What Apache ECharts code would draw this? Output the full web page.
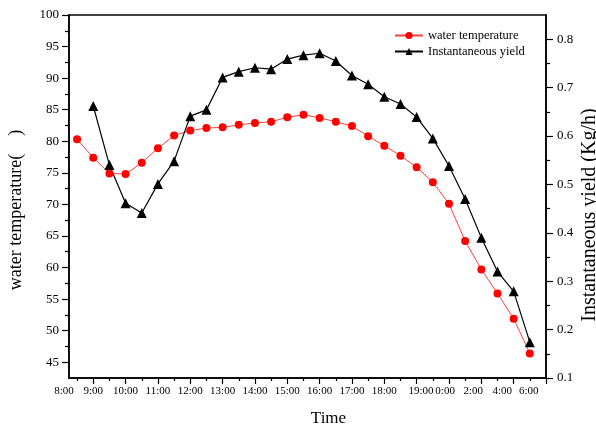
<!DOCTYPE html>
<html>
<head>
<meta charset="utf-8">
<script src="https://cdn.jsdelivr.net/npm/echarts@6/dist/echarts.min.js"></script>
<style>
html,body{margin:0;padding:0;background:#fff;}
#c{width:596px;height:430px;}
</style>
</head>
<body>
<div id="c"></div>
<script>
// half-hour slot index (0 = 8:00, 2 = 9:00, ...)
const tempSlots = [1,2,3,4,5,6,7,8,9,10,11,12,13,14,15,16,17,18,19,20,21,22,23,24,25,26,27,28,29];
const tempValues = [80.3,77.4,74.9,74.8,76.6,78.9,80.9,81.7,82.1,82.2,82.6,82.9,83.1,83.8,84.2,83.7,83.1,82.4,80.8,79.3,77.7,75.9,73.5,70.1,64.2,59.7,55.9,51.9,46.4];
const yieldSlots = [2,3,4,5,6,7,8,9,10,11,12,13,14,15,16,17,18,19,20,21,22,23,24,25,26,27,28,29];
const yieldValues = [0.662,0.540,0.461,0.441,0.501,0.548,0.641,0.654,0.721,0.733,0.741,0.738,0.759,0.767,0.771,0.755,0.725,0.707,0.681,0.666,0.639,0.595,0.538,0.470,0.390,0.320,0.279,0.174];
// x tick labels and the axis values where they sit
const xLabelText = ['8:00','9:00','10:00','11:00','12:00','13:00','14:00','15:00','16:00','17:00','18:00','19:00','0:00','2:00','4:00','6:00'];
const xLabelAt   = [0.5,2,4,6,8,10,12,14,16,18,20,22.27,23.76,25.5,27.29,28.93];
const xMajorTicks = [2,4,6,8,10,12,14,16,18,20,22,24,26,28,30];
const xMinorTicks = [1,3,5,7,9,11,13,15,17,19,21,23,25,27,29];
const leftTicks = [45,50,55,60,65,70,75,80,85,90,95,100];
const leftMinor = [47.5,52.5,57.5,62.5,67.5,72.5,77.5,82.5,87.5,92.5,97.5];
const rightTicks = [0.1,0.2,0.3,0.4,0.5,0.6,0.7,0.8];
const rightMinor = [0.15,0.25,0.35,0.45,0.55,0.65,0.75];

const FONT = '"Liberation Serif","Times New Roman",serif';
const chart = echarts.init(document.getElementById('c'), null, {renderer:'canvas'});

function xFmt(v){
  let best = 0, bd = 1e9;
  xLabelAt.forEach((p,i)=>{ const d=Math.abs(p-v); if(d<bd){bd=d;best=i;} });
  return best === 0 ? '{s|' + xLabelText[0] + '}' : xLabelText[best];
}

const axisLineStyle = {color:'#000', width:1.5};
chart.setOption({
  animation:false,
  backgroundColor:'#fff',
  grid:{left:69, right:50, top:15, bottom:52, show:true, borderColor:'#000', borderWidth:1.5,
        containLabel:false, outerBoundsMode:'none'},
  legend:{
    orient:'vertical', left:394, top:29, padding:0, itemWidth:28, itemHeight:9, itemGap:3,
    textStyle:{fontFamily:FONT, fontSize:12.5, color:'#000'},
    data:['water temperature','Instantaneous yield']
  },
  xAxis:[
    {type:'value', min:0.5, max:30, position:'bottom',
     name:'Time', nameLocation:'middle', nameGap:32,
     nameTextStyle:{fontFamily:FONT, fontSize:17, color:'#000', padding:[0,0,0,42]},
     axisLine:{show:true, lineStyle:axisLineStyle},
     axisTick:{show:true, inside:false, length:6, customValues:xMajorTicks, lineStyle:{color:'#000', width:1.2}},
     axisLabel:{show:true, customValues:xLabelAt, formatter:xFmt, margin:8, color:'#000',
       fontFamily:FONT, fontSize:11, rich:{s:{fontFamily:FONT, fontSize:11, color:'#000', padding:[0,10,0,0]}}},
     splitLine:{show:false}},
    {type:'value', min:0.5, max:30, position:'bottom',
     axisLine:{show:false},
     axisTick:{show:true, inside:false, length:3, customValues:xMinorTicks, lineStyle:{color:'#000', width:1.2}},
     axisLabel:{show:false}, splitLine:{show:false}}
  ],
  yAxis:[
    {type:'value', min:42.5, max:100, position:'left',
     name:'water temperature(    )', nameLocation:'middle', nameGap:44, nameRotate:90,
     nameTextStyle:{fontFamily:FONT, fontSize:18, color:'#000', padding:[0,27,0,0]},
     axisLine:{show:true, lineStyle:axisLineStyle},
     axisTick:{show:true, inside:false, length:7, customValues:leftTicks, lineStyle:{color:'#000', width:1.2}},
     axisLabel:{customValues:leftTicks, margin:10, color:'#000', fontFamily:FONT, fontSize:13},
     splitLine:{show:false}},
    {type:'value', min:0.1, max:0.85, position:'right',
     name:'Instantaneous yield (Kg/h)', nameLocation:'middle', nameGap:34, nameRotate:90,
     nameMoveOverlap:false,
     nameTextStyle:{fontFamily:FONT, fontSize:20, color:'#000', padding:[0,37,0,0]},
     axisLine:{show:true, lineStyle:axisLineStyle},
     axisTick:{show:true, inside:false, length:7, customValues:rightTicks, lineStyle:{color:'#000', width:1.2}},
     axisLabel:{customValues:rightTicks, margin:11, color:'#000', fontFamily:FONT, fontSize:13,
       formatter:v=>v.toFixed(1)},
     splitLine:{show:false}},
    {type:'value', min:42.5, max:100, position:'left',
     axisLine:{show:false},
     axisTick:{show:true, inside:false, length:4, customValues:leftMinor, lineStyle:{color:'#000', width:1.2}},
     axisLabel:{show:false}, splitLine:{show:false}},
    {type:'value', min:0.1, max:0.85, position:'right',
     axisLine:{show:false},
     axisTick:{show:true, inside:false, length:4, customValues:rightMinor, lineStyle:{color:'#000', width:1.2}},
     axisLabel:{show:false}, splitLine:{show:false}}
  ],
  series:[
    {name:'water temperature', type:'line', xAxisIndex:0, yAxisIndex:0,
     data:tempSlots.map((s,i)=>[s,tempValues[i]]),
     symbol:'circle', symbolSize:8,
     lineStyle:{color:'#ff4040', width:1},
     itemStyle:{color:'#ff0000', borderWidth:0}},
    {name:'Instantaneous yield', type:'line', xAxisIndex:0, yAxisIndex:1,
     data:yieldSlots.map((s,i)=>[s,yieldValues[i]]),
     symbol:'triangle', symbolSize:10,
     lineStyle:{color:'#000', width:1.2},
     itemStyle:{color:'#000', borderWidth:0}}
  ]
});
</script>
</body>
</html>
